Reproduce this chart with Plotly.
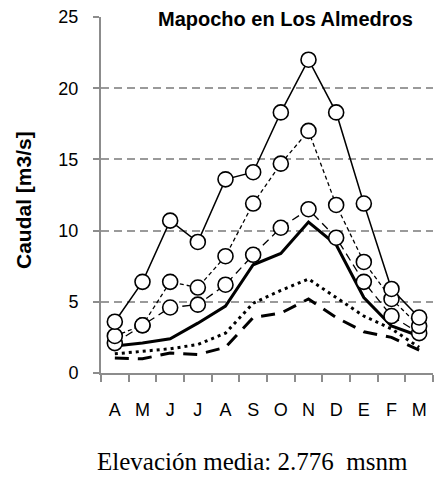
import plotly.graph_objects as go

months = ["A", "M", "J", "J", "A", "S", "O", "N", "D", "E", "F", "M"]
s_max = [3.6, 6.4, 10.7, 9.2, 13.6, 14.1, 18.3, 22.0, 18.3, 11.9, 5.9, 3.9]
s_p2 = [2.6, 3.35, 6.4, 6.0, 8.2, 11.9, 14.7, 17.0, 11.8, 7.8, 5.2, 3.3]
s_p3 = [2.1, 3.35, 4.6, 4.8, 6.2, 8.3, 10.2, 11.5, 9.5, 6.4, 4.0, 2.8]
s_mean = [1.9, 2.1, 2.4, 3.5, 4.7, 7.6, 8.4, 10.6, 9.0, 5.3, 3.3, 2.6]
s_dot = [1.35, 1.55, 1.7, 2.0, 2.8, 4.9, 5.8, 6.6, 5.3, 4.0, 3.1, 1.8]
s_min = [1.05, 1.0, 1.4, 1.3, 1.8, 3.9, 4.2, 5.2, 3.9, 2.9, 2.5, 1.6]
yticks = [0, 5, 10, 15, 20, 25]

x = list(range(len(months)))

fig = go.Figure()

line_specs = [
    (s_max, dict(color="black", width=1.5, dash="solid")),
    (s_p2, dict(color="black", width=1.3, dash="4px,3px")),
    (s_p3, dict(color="black", width=1.3, dash="8px,5px")),
    (s_mean, dict(color="black", width=3, dash="solid")),
    (s_dot, dict(color="black", width=3, dash="3px,4px")),
    (s_min, dict(color="black", width=3, dash="14px,9px")),
]
for ys, ln in line_specs:
    fig.add_trace(go.Scatter(x=x, y=ys, mode="lines", line=ln, showlegend=False,
                             hoverinfo="skip"))

for ys in (s_p3, s_p2, s_max):
    fig.add_trace(go.Scatter(x=x, y=ys, mode="markers", showlegend=False,
                             marker=dict(symbol="circle", size=15, color="white",
                                         line=dict(color="black", width=1.6))))

L, R, T, B = 101, 6, 17, 105
W, H = 439, 478
pw = W - L - R
ph = H - T - B


def px2paper(px, py):
    return (px - L) / pw, 1 - (py - T) / ph


axis_gray = "#8c8c8c"
tx, ty = px2paper(416, 19)
yx, yy = px2paper(23, 200)
bx, by = px2paper(252, 461)

fig.update_layout(
    width=W, height=H,
    margin=dict(l=L, r=R, t=T, b=B),
    paper_bgcolor="white", plot_bgcolor="white",
    font=dict(family="Liberation Sans, Arial", color="black", size=18),
    xaxis=dict(
        range=[-0.5, 11.5], tickmode="array", tickvals=x, ticktext=months,
        ticks="", showgrid=False, zeroline=False,
        showline=True, linecolor=axis_gray, linewidth=2,
        ticklabelstandoff=19,
        tickfont=dict(size=18),
        minor=dict(tickmode="array", tickvals=[i - 0.5 for i in range(13)],
                   ticks="outside", ticklen=7, tickwidth=2, tickcolor=axis_gray,
                   showgrid=False),
    ),
    yaxis=dict(
        range=[0, 25], tickmode="array", tickvals=yticks,
        ticks="outside", ticklen=6, tickwidth=2, tickcolor=axis_gray,
        showline=True, linecolor=axis_gray, linewidth=2,
        showgrid=True, gridcolor="#9a9a9a", gridwidth=1.5, griddash="8px,5px",
        zeroline=False, ticklabelstandoff=11,
        tickfont=dict(size=18),
    ),
    annotations=[
        dict(text="<b>Mapocho en Los Almedros</b>", x=tx, y=ty, xref="paper", yref="paper",
             showarrow=False, font=dict(size=20, family="Liberation Sans, Arial"),
             bgcolor="white", xanchor="right", yanchor="middle", borderpad=2),
        dict(text="<b>Caudal [m3/s]</b>", textangle=-90, xref="paper", yref="paper",
             x=yx, y=yy, showarrow=False, font=dict(size=21),
             xanchor="center", yanchor="middle"),
        dict(text="Elevación media: 2.776  msnm", xref="paper", yref="paper",
             x=bx, y=by, showarrow=False, borderpad=0,
             font=dict(size=25, family="Liberation Serif, Times New Roman"),
             xanchor="center", yanchor="middle"),
    ],
)

fig.write_html("out.html", config={"displayModeBar": False},
               post_script="document.body.style.margin='0px';")
